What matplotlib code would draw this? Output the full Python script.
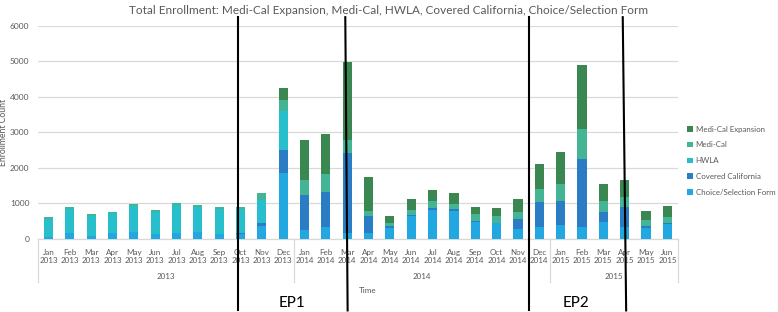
import matplotlib
matplotlib.use("Agg")
import matplotlib.pyplot as plt
from matplotlib.patches import Patch
from matplotlib.lines import Line2D
import numpy as np

plt.rcParams['font.family'] = ['Lato', 'DejaVu Sans']

months = ["Jan", "Feb", "Mar", "Apr", "May", "Jun", "Jul", "Aug", "Sep", "Oct", "Nov", "Dec",
          "Jan", "Feb", "Mar", "Apr", "May", "Jun", "Jul", "Aug", "Sep", "Oct", "Nov", "Dec",
          "Jan", "Feb", "Mar", "Apr", "May", "Jun"]
years = ["2013"] * 12 + ["2014"] * 12 + ["2015"] * 6

choice = [60, 160, 80, 170, 190, 140, 160, 190, 150, 140, 366, 1850,
          254, 347, 160, 178, 320, 648, 817, 789, 488, 441, 282, 347,
          404, 338, 479, 347, 319, 413]
covered = [0, 0, 0, 0, 0, 0, 0, 0, 0, 20, 94, 657,
           986, 986, 2254, 470, 47, 28, 47, 47, 28, 19, 291, 695,
           676, 1925, 291, 545, 56, 47]
hwla = [508, 686, 569, 549, 731, 626, 794, 717, 696, 690, 638, 1080,
        0, 0, 0, 0, 0, 0, 0, 0, 0, 0, 0, 0,
        0, 0, 0, 0, 0, 0]
medical = [45, 50, 40, 45, 60, 45, 55, 55, 50, 60, 207, 329,
           423, 488, 376, 141, 75, 141, 207, 141, 178, 188, 178, 376,
           479, 826, 300, 300, 150, 160]
expansion = [0, 0, 0, 0, 0, 0, 0, 0, 0, 0, 0, 338,
             1127, 1136, 2197, 958, 207, 300, 319, 329, 216, 225, 366, 685,
             901, 1812, 469, 479, 272, 310]

series_names = ["Choice/Selection Form", "Covered California", "HWLA", "Medi-Cal", "Medi-Cal Expansion"]
series_vals = [choice, covered, hwla, medical, expansion]
colors = ["#22a8e0", "#2a7cc5", "#27bfcc", "#43b494", "#3a8751"]

year_groups = ["2013", "2014", "2015"]
ep_top = [8.89, 13.91, 22.50, 26.91]
ep_bottom = [8.89, 14.02, 22.50, 27.07]
ep_labels = ["EP1", "EP2"]

gray = "#595959"
light = "#d9d9d9"

fig = plt.figure(figsize=(7.78, 3.12), dpi=100)
ax = fig.add_axes([0.0485, 0.234, 0.8230, 0.6836])

x = np.arange(len(months))
bottom = np.zeros(len(months))
for name, vals, c in zip(series_names, series_vals, colors):
    v = np.array(vals, dtype=float)
    ax.bar(x, v, bottom=bottom, width=0.43, color=c, label=name, zorder=3)
    bottom += v

ax.set_xlim(-0.5, len(months) - 0.5)
ax.set_ylim(0, 6000)
ax.set_yticks(np.arange(0, 6001, 1000))
ax.yaxis.grid(True, color=light, lw=0.9, zorder=0)
for s in ["top", "right", "left"]:
    ax.spines[s].set_visible(False)
ax.spines["bottom"].set_color(light)
ax.spines["bottom"].set_linewidth(0.9)
ax.tick_params(axis="y", length=0, labelsize=6, labelcolor=gray, pad=6)
ax.set_xticks(x)
ax.set_xticklabels([f"{m}\n{y}" for m, y in zip(months, years)], fontsize=5.8,
                   color=gray, linespacing=1.2)
ax.tick_params(axis="x", length=0, pad=7)
ax.set_ylabel("Enrollment Count", fontsize=6.2, color=gray)
ax.yaxis.set_label_coords(-0.046, 0.5)

# multi-level category separators and year labels
idx = np.arange(len(years))
bounds = [-0.5]
for g in year_groups:
    members = idx[np.array(years) == g]
    bounds.append(members.max() + 0.5)
    ax.text(members.mean(), -0.177, g, transform=ax.get_xaxis_transform(),
            ha="center", va="center", fontsize=5.8, color=gray)
for b in bounds:
    ax.add_line(Line2D([b, b], [0, -0.2], transform=ax.get_xaxis_transform(),
                       color=light, lw=0.9, clip_on=False))

ax.text(14.95, -0.24, "Time", transform=ax.get_xaxis_transform(), ha="center",
        va="center", fontsize=5.8, color=gray)

fig.suptitle("Total Enrollment: Medi-Cal Expansion, Medi-Cal, HWLA, Covered California, Choice/Selection Form",
             x=0.5, y=0.985, fontsize=8.5, color=gray)

# EP lines
for xt, xb in zip(ep_top, ep_bottom):
    ax.add_line(Line2D([xt, xb], [1.04, -0.335], transform=ax.get_xaxis_transform(),
                       color="black", lw=1.5, clip_on=False, zorder=10))
for i, lab in enumerate(ep_labels):
    xm = (ep_top[2 * i] + ep_top[2 * i + 1]) / 2
    ax.text(xm, -0.30, lab, transform=ax.get_xaxis_transform(), ha="center",
            va="center", fontsize=11, color="black")

handles = [Patch(facecolor=c, edgecolor="none") for c in colors][::-1]
labels = series_names[::-1]
fig.legend(handles, labels, loc="upper left", bbox_to_anchor=(0.879, 0.607),
           frameon=False, fontsize=5.7, labelcolor=gray, handlelength=0.7,
           handleheight=0.7, handletextpad=0.4, labelspacing=1.1, borderaxespad=0)

fig.savefig("out.png", dpi=100)
